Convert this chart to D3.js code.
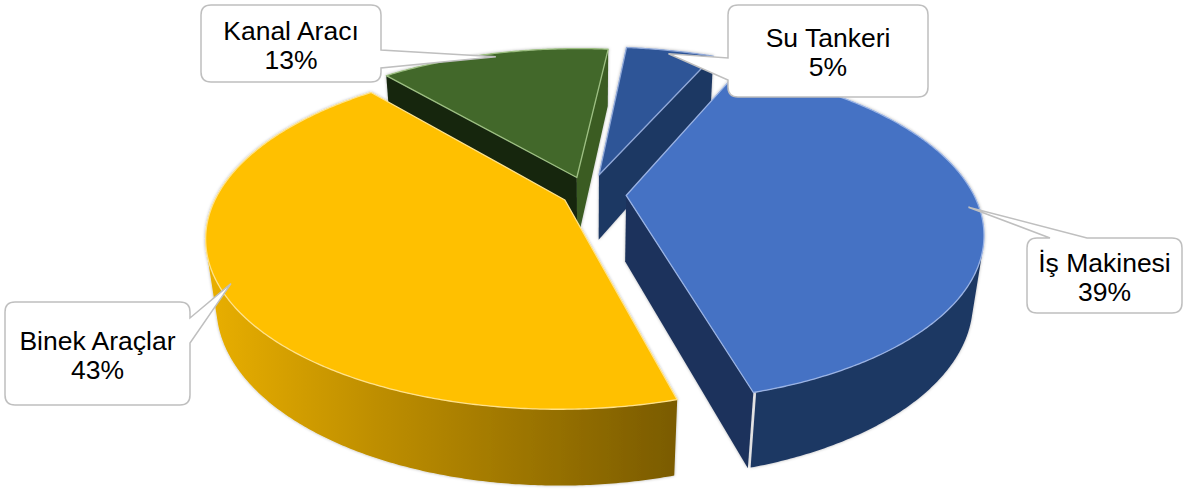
<!DOCTYPE html>
<html>
<head>
<meta charset="utf-8">
<script src="https://cdnjs.cloudflare.com/ajax/libs/d3/7.8.5/d3.min.js"></script>
<style>
	body { margin: 0; background: #fff; }
	svg { display: block; }
	.lbl { font-family: "Liberation Sans", Arial, sans-serif; font-size: 26.5px; fill: #000; }
</style>
</head>
<body>
<svg id="chart" width="1184" height="494"></svg>
<script>

// data (percent shares, clockwise from the top)
var categories = ["Su Tankeri", "İş Makinesi", "Binek Araçlar", "Kanal Aracı"];
var shares = [5, 39, 43, 13];

// styles
var topColors = ["#2F5597", "#4472C4", "#FFC000", "#43682B"];
var edgeColors = ["#8FA8D8", "#9AB3E4", "#FFE28A", "#9DBF82"];
var outerWall = ["#1F3864", "#1F3864", "url(#binekSide)", "#1A2E12"];
var startWall = ["#1F3864", "#1C3259", "#7F6000", "#152610"];
var endWall = ["#1F3864", "#1D335C", "#7F6000", "#3A5C24"];
var explode = [0.125, 0.11, 0.075, 0.11];

// callout boxes: x, y, w, h, side, pointer base from, to
var boxes = [
	{ x: 728, y: 5, w: 200, h: 92, side: "left", b1: 58, b2: 80 },
	{ x: 1027, y: 238, w: 155, h: 75, side: "top", b1: 1050, b2: 1087 },
	{ x: 5, y: 302, w: 185, h: 103, side: "right", b1: 318, b2: 343 },
	{ x: 201, y: 5, w: 180, h: 77, side: "right", b1: 50, b2: 68 }
];

var svg = d3.select("svg"),
	width = +svg.attr("width"),
	height = +svg.attr("height");

// simple perspective camera
var cam = { cx: 588, cy: 260, f: 1420, D: 4.2, tilt: 30.5 * Math.PI / 180, h: 0.22 };
var rho = 6 * Math.PI / 180;
var sT = Math.sin(cam.tilt), cT = Math.cos(cam.tilt);
var camPos = [0, cam.D * sT, cam.D * cT];

function project(X, Y, Z) {
	var depth = cam.D - Y * sT - Z * cT;
	return [cam.cx + cam.f * X / depth, cam.cy - cam.f * (Y * cT - Z * sT) / depth];
}

var pie = d3.pie().sort(null).value(function (d) { return d; })
	.startAngle(rho).endAngle(rho + 2 * Math.PI);
var arcs = pie(shares);

var defs = svg.append("defs");
var shadow = defs.append("filter").attr("id", "soft")
	.attr("x", "-10%").attr("y", "-10%").attr("width", "120%").attr("height", "120%");
shadow.append("feDropShadow").attr("dx", 0).attr("dy", 0)
	.attr("stdDeviation", 1.6).attr("flood-color", "#000").attr("flood-opacity", 0.3);

var line = d3.line();

arcs.forEach(function (a, i) {
	var mid = (a.startAngle + a.endAngle) / 2;
	a.name = categories[i];
	a.i = i;
	a.off = [explode[i] * Math.sin(mid), -explode[i] * Math.cos(mid)];
	a.mid = mid;
	a.pt = function (t, r, y) {
		return project(this.off[0] + r * Math.sin(t), y, this.off[1] - r * Math.cos(t));
	};
	a.sortZ = a.off[1] - 0.5 * Math.cos(mid);
});

function visible(n, p) {
	return n[0] * (camPos[0] - p[0]) + n[1] * (camPos[1] - p[1]) + n[2] * (camPos[2] - p[2]) > 0;
}

var order = arcs.slice().sort(function (a, b) { return a.sortZ - b.sortZ; });
var g = svg.append("g").attr("filter", "url(#soft)");
var step = 0.5 * Math.PI / 180;

order.forEach(function (a) {
	var i = a.i, h = cam.h;
	var sg = g.append("g").attr("class", "slice");
	var apex = [a.off[0], 0, a.off[1]];

	// radial walls
	var s = a.startAngle, e = a.endAngle;
	var ns = [-Math.cos(s), 0, -Math.sin(s)];
	var ne = [Math.cos(e), 0, Math.sin(e)];
	[[s, ns, startWall[i]], [e, ne, endWall[i]]].forEach(function (w) {
		if (!visible(w[1], apex)) return;
		var pts = [a.pt(0, 0, h), a.pt(w[0], 1, h), a.pt(w[0], 1, 0), a.pt(0, 0, 0)];
		sg.append("path").attr("d", line(pts) + "Z").attr("fill", w[2]);
	});

	// outer curved wall, visible run only
	var run = [];
	for (var t = s; t <= e + 1e-9; t += step) {
		var tt = Math.min(t, e);
		var n = [Math.sin(tt), 0, -Math.cos(tt)];
		var p = [a.off[0] + n[0], h / 2, a.off[1] + n[2]];
		if (visible(n, p)) run.push(tt);
	}
	if (run.length > 1) {
		var topPts = run.map(function (t) { return a.pt(t, 1, h); });
		var botPts = run.map(function (t) { return a.pt(t, 1, 0); }).reverse();
		if (i === 2) {
			var xs = topPts.map(function (p) { return p[0]; });
			var grad = defs.append("linearGradient").attr("id", "binekSide")
				.attr("gradientUnits", "userSpaceOnUse")
				.attr("x1", d3.min(xs)).attr("x2", d3.max(xs)).attr("y1", 0).attr("y2", 0);
			grad.append("stop").attr("offset", 0).attr("stop-color", "#E9AF00");
			grad.append("stop").attr("offset", 0.35).attr("stop-color", "#BF8F00");
			grad.append("stop").attr("offset", 1).attr("stop-color", "#7A5B00");
		}
		sg.append("path").attr("d", line(topPts.concat(botPts)) + "Z").attr("fill", outerWall[i]);
	}

	// top face
	var tp = [a.pt(0, 0, h)];
	for (var t2 = s; t2 <= e + 1e-9; t2 += step) tp.push(a.pt(Math.min(t2, e), 1, h));
	tp.push(a.pt(e, 1, h));
	sg.append("path").attr("d", line(tp) + "Z")
		.attr("fill", topColors[i])
		.attr("stroke", edgeColors[i]).attr("stroke-width", 1.3)
		.attr("stroke-linejoin", "round");
});

// callouts
function calloutPath(b, tip) {
	var r = 10, x = b.x, y = b.y, w = b.w, hh = b.h, p = [];
	p.push("M" + (x + r) + "," + y);
	if (b.side === "top") p.push("L" + b.b1 + "," + y, "L" + tip[0] + "," + tip[1], "L" + b.b2 + "," + y);
	p.push("L" + (x + w - r) + "," + y, "Q" + (x + w) + "," + y + " " + (x + w) + "," + (y + r));
	if (b.side === "right") p.push("L" + (x + w) + "," + b.b1, "L" + tip[0] + "," + tip[1], "L" + (x + w) + "," + b.b2);
	p.push("L" + (x + w) + "," + (y + hh - r), "Q" + (x + w) + "," + (y + hh) + " " + (x + w - r) + "," + (y + hh));
	p.push("L" + (x + r) + "," + (y + hh), "Q" + x + "," + (y + hh) + " " + x + "," + (y + hh - r));
	if (b.side === "left") p.push("L" + x + "," + b.b2, "L" + tip[0] + "," + tip[1], "L" + x + "," + b.b1);
	p.push("L" + x + "," + (y + r), "Q" + x + "," + y + " " + (x + r) + "," + y, "Z");
	return p.join(" ");
}

var labels = svg.append("g").attr("class", "labels");
arcs.forEach(function (a, i) {
	var b = boxes[i];
	var tip = a.pt(a.mid, 0.97, cam.h);
	labels.append("path").attr("d", calloutPath(b, tip))
		.attr("fill", "#fff").attr("stroke", "#BFBFBF").attr("stroke-width", 1.5);
	var my = b.y + b.h / 2;
	labels.append("text").attr("class", "lbl").attr("text-anchor", "middle")
		.attr("x", b.x + b.w / 2).attr("y", my - 4).text(categories[i]);
	labels.append("text").attr("class", "lbl").attr("text-anchor", "middle")
		.attr("x", b.x + b.w / 2).attr("y", my + 25).text(shares[i] + "%");
});

</script>
</body>
</html>
